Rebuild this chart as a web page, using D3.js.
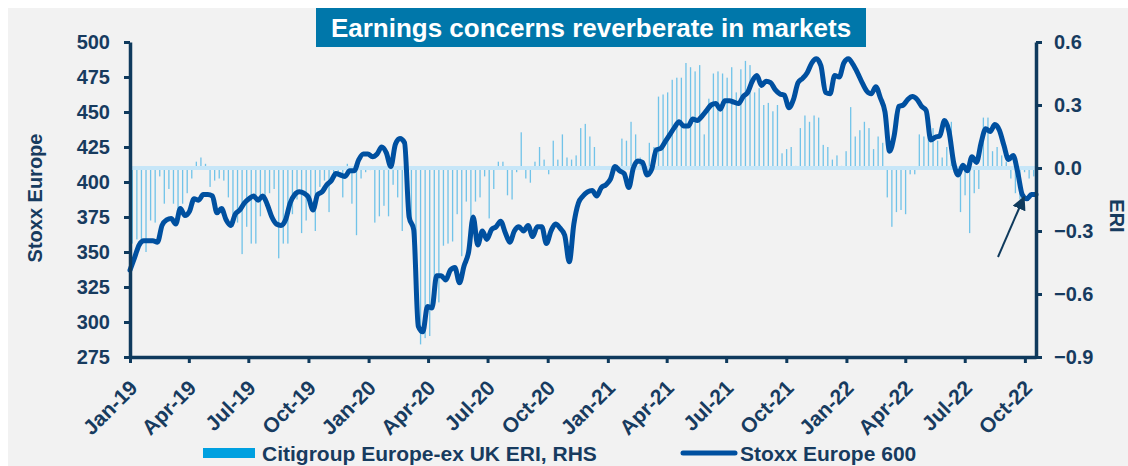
<!DOCTYPE html>
<html>
<head>
<meta charset="utf-8">
<script src="https://cdn.jsdelivr.net/npm/d3@7"></script>
<style>
  body { margin: 0; background: #fff; }
  svg { display: block; font-family: Arial, "Liberation Sans", sans-serif; font-weight: bold; }
</style>
</head>
<body>
<svg id="chart" width="1128" height="466"></svg>
<script>
// ── Data (weekly) ─────────────────────────────────────────────
// Stoxx Europe 600, weekly from 1 Jan 2019
const stoxxStart = new Date(2019, 0, 1);
const stoxx = [
  337, 346, 355, 358, 358, 358, 357, 369, 373, 374,
  370, 381, 376, 379, 388, 387, 391, 391, 390, 378,
  381, 373, 369, 377, 380, 385, 388, 390, 387, 390,
  384, 375, 370, 369, 373, 385, 391, 393, 392, 389,
  380, 391, 393, 398, 401, 406, 405, 404, 408, 408,
  416, 420, 420, 418, 420, 425, 421, 411, 427, 431,
  428, 375, 366, 297, 293, 311, 310, 333, 333, 330,
  337, 339, 328, 340, 350, 375, 355, 365, 359, 366,
  368, 372, 364, 357, 365, 368, 365, 369, 361, 368,
  368, 356, 365, 370, 367, 362, 343, 370, 385, 390,
  393, 394, 390, 396, 398, 402, 411, 408, 406, 396,
  410, 415, 414, 405, 409, 423, 424, 429, 434, 439,
  443, 440, 440, 445, 444, 447, 451, 455, 456, 452,
  458, 458, 457, 456, 461, 464, 472, 476, 469, 472,
  471, 466, 463, 462, 453, 459, 471, 474, 478, 485,
  488, 483, 464, 463, 476, 475, 485, 488, 484, 478,
  471, 465, 463, 468, 460, 450, 422, 433, 454, 455,
  459, 461, 459, 454, 451, 430, 432, 433, 444, 436,
  414, 405, 412, 408, 418, 414, 428, 438, 436, 441,
  437, 426, 416, 419, 407, 391, 388, 391, 391
];

// Citigroup Europe-ex UK ERI (RHS), weekly
const eriStart = new Date(2019, 0, 4, 12);
const eri = [
  -0.36, -0.34, -0.36, -0.40, -0.25, -0.26, -0.04, -0.17, -0.10, -0.17,
  -0.26, -0.17, -0.12, -0.05, 0.03, 0.05, 0.02, -0.09, -0.06, -0.05,
  -0.06, -0.14, -0.28, -0.26, -0.41, -0.28, -0.36, -0.36, -0.23, -0.15,
  -0.12, -0.10, -0.43, -0.36, -0.36, -0.22, -0.15, -0.31, -0.25, -0.18,
  -0.30, -0.09, -0.06, -0.21, -0.03, -0.02, -0.14, 0.02, -0.17, -0.32,
  -0.05, -0.02, -0.01, -0.26, -0.23, -0.18, -0.23, -0.08, -0.14, -0.30,
  -0.15, -0.28, -0.55, -0.84, -0.81, -0.80, -0.63, -0.64, -0.37, -0.36,
  -0.35, -0.22, -0.42, -0.16, -0.33, -0.16, -0.14, -0.04, -0.24, -0.10,
  0.03, 0.03, -0.13, -0.15, -0.02, 0.17, -0.05, -0.07, 0.03, 0.10,
  0.04, -0.03, 0.13, 0.04, 0.16, 0.05, 0.04, 0.06, 0.19, 0.21,
  0.15, 0.10, 0.01, 0.00, 0.00, -0.01, 0.01, 0.14, 0.13, 0.22,
  0.16, 0.05, 0.02, 0.12, 0.10, 0.34, 0.35, 0.36, 0.42, 0.43,
  0.43, 0.50, 0.48, 0.46, 0.49, 0.16, 0.33, 0.45, 0.46, 0.45,
  0.43, 0.48, 0.36, 0.47, 0.51, 0.49, 0.36, 0.38, 0.30, 0.31,
  0.27, 0.30, 0.07, 0.09, 0.10, 0.01, 0.19, 0.25, 0.22, 0.25,
  0.24, 0.11, 0.10, 0.04, 0.06, 0.01, 0.08, 0.29, 0.15, 0.18,
  0.22, 0.19, 0.09, 0.15, 0.12, -0.14, -0.28, -0.21, -0.20, -0.22,
  -0.03, -0.03, 0.16, 0.15, 0.15, 0.19, 0.13, 0.05, 0.10, 0.22,
  -0.03, -0.21, -0.13, -0.31, -0.12, -0.10, 0.24, 0.24, 0.08, 0.10,
  0.06, 0.03, -0.05, -0.12, -0.15, -0.02, -0.05, -0.04
];

const leftTicks = [275, 300, 325, 350, 375, 400, 425, 450, 475, 500];
const rightTicks = [-0.9, -0.6, -0.3, 0.0, 0.3, 0.6];
const xTickDates = [
  '2019-01', '2019-04', '2019-07', '2019-10',
  '2020-01', '2020-04', '2020-07', '2020-10',
  '2021-01', '2021-04', '2021-07', '2021-10',
  '2022-01', '2022-04', '2022-07', '2022-10'
];

const titleText = 'Earnings concerns reverberate in markets';
const legendItems = ['Citigroup Europe-ex UK ERI, RHS', 'Stoxx Europe 600'];

// ── Colours ──────────────────────────────────────────────────
const NAVY = '#0f3a5d';
const TEXT = '#173b5f';
const LINE = '#0050a0';
const BAR = '#46b3e6';

// ── Layout ───────────────────────────────────────────────────
const plot = { left: 130, right: 1036, top: 42, bottom: 357 };
const svg = d3.select('#chart');

svg.append('rect').attr('x', 8).attr('y', 8).attr('width', 1120).attr('height', 458)
  .attr('fill', '#f2f2f2');

const stoxxData = stoxx.map((v, i) => ({ date: d3.timeDay.offset(stoxxStart, 7 * i), v }));
const eriData = eri.map((v, i) => ({ date: d3.timeDay.offset(eriStart, 7 * i), v }));

const x = d3.scaleTime()
  .domain([stoxxStart, stoxxData[stoxxData.length - 1].date])
  .range([plot.left, plot.right]);
const yL = d3.scaleLinear().domain([275, 500]).range([plot.bottom, plot.top]);
const yR = d3.scaleLinear().domain([-0.9, 0.6]).range([plot.bottom, plot.top]);

// ── ERI bars ─────────────────────────────────────────────────
svg.append('g').selectAll('rect').data(eriData).join('rect')
  .attr('x', d => x(d.date) - 0.65)
  .attr('width', 1.3)
  .attr('y', d => Math.min(yR(d.v), yR(0)))
  .attr('height', d => Math.abs(yR(d.v) - yR(0)))
  .attr('fill', BAR)
  .attr('opacity', 0.75);

// zero band
svg.append('line')
  .attr('x1', plot.left).attr('x2', plot.right)
  .attr('y1', yR(0)).attr('y2', yR(0))
  .attr('stroke', '#c6e6f8').attr('stroke-width', 4);

// ── Stoxx line ───────────────────────────────────────────────
svg.append('path').datum(stoxxData)
  .attr('fill', 'none')
  .attr('stroke', LINE)
  .attr('stroke-width', 5)
  .attr('stroke-linejoin', 'round')
  .attr('stroke-linecap', 'round')
  .attr('d', d3.line().x(d => x(d.date)).y(d => yL(d.v)).curve(d3.curveMonotoneX));

// ── Axes ─────────────────────────────────────────────────────
function styleAxis(g) {
  g.select('.domain').attr('stroke', NAVY).attr('stroke-width', 3.5);
  g.selectAll('.tick line').attr('stroke', NAVY).attr('stroke-width', 3);
  g.selectAll('.tick text').attr('fill', TEXT).attr('font-size', 20)
    .attr('font-family', 'Arial, "Liberation Sans", sans-serif').attr('font-weight', 'bold');
}

svg.append('g')
  .attr('transform', `translate(${plot.left},0)`)
  .call(d3.axisLeft(yL).tickValues(leftTicks).tickSize(6).tickSizeOuter(0).tickPadding(14))
  .call(styleAxis);

svg.append('g')
  .attr('transform', `translate(${plot.right},0)`)
  .call(d3.axisRight(yR).tickValues(rightTicks).tickSize(6).tickSizeOuter(0).tickPadding(12)
    .tickFormat(d3.format('.1f')))
  .call(styleAxis);

const parseMonth = d3.timeParse('%Y-%m');
const xTicks = xTickDates.map(parseMonth);
const xAxis = svg.append('g')
  .attr('transform', `translate(0,${plot.bottom})`)
  .call(d3.axisBottom(x).tickValues(xTicks).tickSize(6).tickSizeOuter(0)
    .tickFormat(d3.timeFormat('%b-%y')))
  .call(styleAxis);
xAxis.selectAll('.tick text')
  .attr('font-size', 21)
  .attr('text-anchor', 'end')
  .attr('transform', 'translate(3,27) rotate(-45)')
  .attr('dy', '0.35em')
  .attr('y', 0);

// ── Axis titles ──────────────────────────────────────────────
svg.append('text')
  .attr('transform', 'translate(42,198) rotate(-90)')
  .attr('text-anchor', 'middle')
  .attr('fill', TEXT).attr('font-size', 20)
  .text('Stoxx Europe');

svg.append('text')
  .attr('transform', 'translate(1110,216) rotate(90)')
  .attr('text-anchor', 'middle')
  .attr('fill', TEXT).attr('font-size', 20)
  .text('ERI');

// ── Title box ────────────────────────────────────────────────
svg.append('rect').attr('x', 316).attr('y', 8).attr('width', 550).attr('height', 39)
  .attr('fill', '#0077aa');
svg.append('text')
  .attr('x', 591).attr('y', 37)
  .attr('text-anchor', 'middle')
  .attr('fill', '#fff').attr('font-size', 26)
  .text(titleText);

// ── Annotation arrow ─────────────────────────────────────────
svg.append('defs').append('marker')
  .attr('id', 'arrow').attr('viewBox', '0 0 10 10')
  .attr('refX', 9).attr('refY', 5)
  .attr('markerWidth', 7).attr('markerHeight', 7)
  .attr('orient', 'auto')
  .append('path').attr('d', 'M0,0 L10,5 L0,10 z').attr('fill', NAVY);

svg.append('line')
  .attr('x1', 998).attr('y1', 257)
  .attr('x2', 1024).attr('y2', 197)
  .attr('stroke', NAVY).attr('stroke-width', 2)
  .attr('marker-end', 'url(#arrow)');

// ── Legend ───────────────────────────────────────────────────
const legend = svg.append('g');
legend.append('rect').attr('x', 203).attr('y', 448).attr('width', 52).attr('height', 10)
  .attr('fill', '#00a0e0');
legend.append('text').attr('x', 262).attr('y', 461)
  .attr('fill', TEXT).attr('font-size', 21).text(legendItems[0]);
legend.append('line').attr('x1', 683).attr('x2', 735).attr('y1', 453).attr('y2', 453)
  .attr('stroke', LINE).attr('stroke-width', 5).attr('stroke-linecap', 'round');
legend.append('text').attr('x', 740).attr('y', 461)
  .attr('fill', TEXT).attr('font-size', 21).text(legendItems[1]);
</script>
</body>
</html>
